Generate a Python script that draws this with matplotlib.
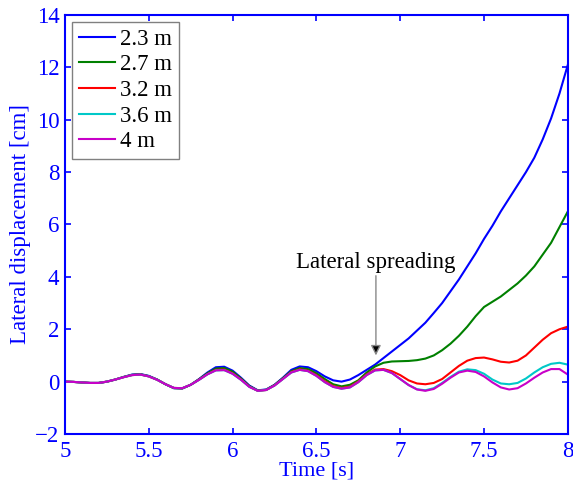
import numpy as np
import matplotlib.pyplot as plt

# Time axis (s)
t = np.round(np.arange(5.0, 8.0001, 0.05), 2)

# Lateral displacement (cm), one per depth
d_23 = [0.00, -0.01, -0.03, -0.05, -0.05, 0.00, 0.08, 0.18, 0.27, 0.29,
        0.22, 0.08, -0.10, -0.25, -0.26, -0.12, 0.10, 0.35, 0.55, 0.57,
        0.42, 0.15, -0.15, -0.33, -0.30, -0.12, 0.15, 0.45, 0.58, 0.55,
        0.40, 0.20, 0.05, 0.00, 0.08, 0.25, 0.45, 0.65, 0.90, 1.15,
        1.40, 1.65, 1.95, 2.25, 2.62, 3.00, 3.45, 3.90, 4.40, 4.90,
        5.45, 5.95, 6.50, 7.00, 7.50, 8.00, 8.55, 9.25, 10.05, 11.00,
        12.10]
d_27 = [0.00, -0.01, -0.03, -0.05, -0.05, 0.00, 0.08, 0.18, 0.26, 0.28,
        0.21, 0.08, -0.10, -0.25, -0.26, -0.12, 0.09, 0.32, 0.50, 0.52,
        0.38, 0.12, -0.17, -0.34, -0.31, -0.13, 0.13, 0.40, 0.52, 0.48,
        0.32, 0.10, -0.10, -0.18, -0.12, 0.05, 0.35, 0.58, 0.72, 0.77,
        0.78, 0.79, 0.82, 0.88, 1.00, 1.20, 1.45, 1.75, 2.10, 2.50,
        2.85, 3.05, 3.25, 3.50, 3.75, 4.05, 4.40, 4.85, 5.30, 5.90,
        6.50]
d_32 = [0.00, -0.01, -0.03, -0.05, -0.05, 0.00, 0.08, 0.17, 0.25, 0.27,
        0.20, 0.07, -0.10, -0.24, -0.25, -0.12, 0.08, 0.29, 0.45, 0.46,
        0.32, 0.09, -0.19, -0.35, -0.32, -0.14, 0.11, 0.37, 0.47, 0.42,
        0.25, 0.02, -0.17, -0.24, -0.19, 0.01, 0.28, 0.46, 0.48, 0.40,
        0.25, 0.05, -0.07, -0.10, -0.05, 0.10, 0.35, 0.60, 0.80, 0.90,
        0.92, 0.85, 0.76, 0.73, 0.80, 1.00, 1.30, 1.60, 1.85, 2.00,
        2.10]
d_36 = [0.00, -0.01, -0.03, -0.05, -0.05, 0.00, 0.08, 0.17, 0.25, 0.27,
        0.20, 0.07, -0.10, -0.24, -0.25, -0.12, 0.07, 0.28, 0.43, 0.44,
        0.30, 0.07, -0.20, -0.35, -0.32, -0.15, 0.10, 0.35, 0.45, 0.40,
        0.22, -0.02, -0.20, -0.27, -0.22, -0.02, 0.25, 0.43, 0.45, 0.33,
        0.10, -0.13, -0.29, -0.33, -0.25, -0.05, 0.18, 0.38, 0.47, 0.44,
        0.30, 0.08, -0.07, -0.10, -0.05, 0.12, 0.35, 0.55, 0.68, 0.72,
        0.65]
d_40 = [0.00, -0.01, -0.03, -0.05, -0.05, 0.00, 0.08, 0.17, 0.25, 0.27,
        0.20, 0.07, -0.10, -0.24, -0.25, -0.12, 0.07, 0.28, 0.43, 0.44,
        0.30, 0.07, -0.20, -0.35, -0.32, -0.15, 0.10, 0.35, 0.45, 0.40,
        0.22, -0.02, -0.20, -0.27, -0.22, -0.02, 0.25, 0.43, 0.45, 0.33,
        0.10, -0.13, -0.30, -0.35, -0.28, -0.08, 0.15, 0.35, 0.42, 0.37,
        0.20, -0.03, -0.22, -0.30, -0.25, -0.07, 0.15, 0.35, 0.48, 0.48,
        0.27]

labels = ['2.3 m', '2.7 m', '3.2 m', '3.6 m', '4 m']
colors = ['#0000ff', '#008000', '#ff0000', '#00c8c8', '#c800c8']

plt.rcParams['font.family'] = ['Liberation Serif', 'DejaVu Serif']
blue = '#0000ff'
fs = 16.5

fig = plt.figure(figsize=(5.73, 4.83), dpi=100)
ax = fig.add_axes([0.1134, 0.1014, 0.8776, 0.8676])

for d, lab, c in zip([d_23, d_27, d_32, d_36, d_40], labels, colors):
    ax.plot(t, d, color=c, lw=1.5, label=lab, solid_joinstyle='round')

ax.set_xlim(5, 8)
ax.set_ylim(-2, 14)
ax.set_xticks([5, 5.5, 6, 6.5, 7, 7.5, 8])
ax.set_xticklabels(['5', '5.5', '6', '6.5', '7', '7.5', '8'])
ax.set_yticks(range(-2, 15, 2))
ax.set_yticklabels(['\u22122'] + [str(v) for v in range(0, 15, 2)])

for s in ax.spines.values():
    s.set_color(blue)
    s.set_linewidth(1.5)
ax.tick_params(direction='in', top=True, right=True, colors=blue,
               labelsize=fs, length=4, width=1.2, pad=4)
ax.tick_params(axis='x', pad=5)
ax.set_xlabel('Time [s]', color=blue, fontsize=16)
ax.xaxis.set_label_coords(0.5, -0.065)
ax.set_ylabel('Lateral displacement [cm]', color=blue, fontsize=fs, labelpad=3)

ax.annotate('Lateral spreading', xy=(6.855, 1.0), xytext=(6.855, 4.15),
            ha='center', va='bottom', fontsize=fs,
            arrowprops=dict(arrowstyle='-|>', color='#888888', lw=1,
                            mutation_scale=15, shrinkA=0, shrinkB=0,
                            fc='black', ec='#888888'))

leg = ax.legend(loc='upper left', fontsize=fs, fancybox=False, framealpha=1,
                edgecolor='#808080', handlelength=1.6, handletextpad=0.2,
                labelspacing=0.2, borderpad=0.3, borderaxespad=0.3)
leg.get_frame().set_linewidth(1)

fig.savefig('out.png', dpi=100)
